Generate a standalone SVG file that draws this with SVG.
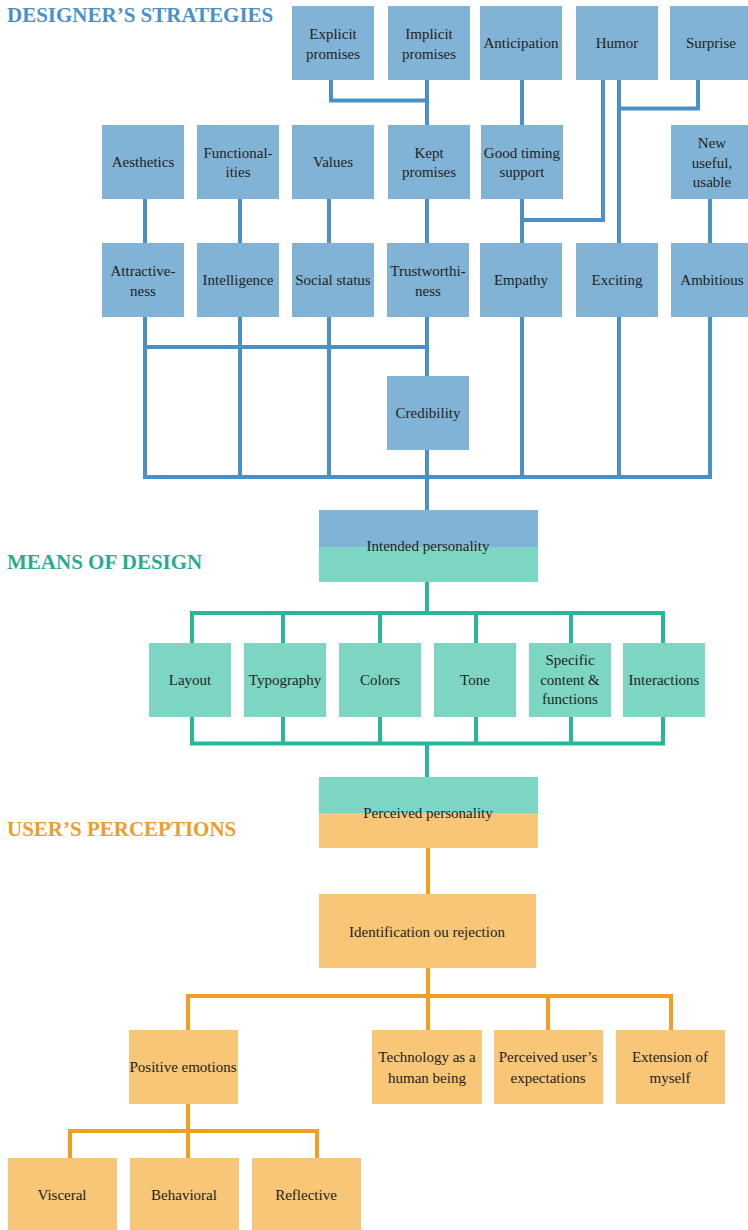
<svg xmlns="http://www.w3.org/2000/svg" width="748" height="1230" viewBox="0 0 748 1230">
<style>
text{font-family:"Liberation Serif","DejaVu Serif",Tinos,Times,serif;fill:#231f20;font-size:15px;text-anchor:middle}
.h{font-weight:bold;font-size:21px;text-anchor:start}
.b{fill:#80b3d6}
.t{fill:#7dd6c3}
.o{fill:#f7c676}
.lb{stroke:#4b91c9;stroke-width:4;fill:none;stroke-linejoin:miter;stroke-linecap:square}
.lt{stroke:#26b899;stroke-width:4;fill:none;stroke-linecap:square}
.lo{stroke:#f29e1f;stroke-width:4;fill:none;stroke-linecap:square}
</style>
<rect width="748" height="1230" fill="#fff"/>
<g id="headings" font-family="Liberation Serif, serif">
<text class="h" x="7" y="22" style="fill:#4a90c9">DESIGNER’S STRATEGIES</text>
<text class="h" x="7" y="569" style="fill:#27ac8f">MEANS OF DESIGN</text>
<text class="h" x="7" y="836" style="fill:#f09c2a">USER’S PERCEPTIONS</text>
</g>
<g id="connectors">
<path class="lb" d="M331 80V100.5H427M427 80V125M522 80V125M603 80V220H522M619 80V243M619 108.5H698V80M427 199V243M522 199V243M145 199V243M240 199V243M329 199V243M710 199V243"/>
<path class="lb" d="M145 317V477H710V317M240 317V477M329 317V477M427 317V376M427 450V510M522 317V477M619 317V477M145 347H427"/>
<path class="lt" d="M427 582V613M192 643V613H663V643M283 613V643M380 613V643M476 613V643M571 613V643M192 717V743.5H663V717M283 717V743.5M380 717V743.5M476 717V743.5M571 717V743.5M427 743.5V777"/>
<path class="lo" d="M428 848V894M428 968V1030M188 1030V996H671V1030M548 996V1030M188 1104V1158M70 1158V1131H317V1158"/>
</g>
<g id="n-explicit"><rect class="b" x="292" y="6" width="82" height="74"/><text x="333" y="39">Explicit</text><text x="333" y="59">promises</text></g>
<g id="n-implicit"><rect class="b" x="388" y="6" width="82" height="74"/><text x="429" y="39">Implicit</text><text x="429" y="59">promises</text></g>
<g id="n-anticipation"><rect class="b" x="480" y="6" width="82" height="74"/><text x="521" y="48">Anticipation</text></g>
<g id="n-humor"><rect class="b" x="576" y="6" width="82" height="74"/><text x="617" y="48">Humor</text></g>
<g id="n-surprise"><rect class="b" x="670" y="6" width="78" height="74"/><text x="711" y="48">Surprise</text></g>
<g id="n-aesthetics"><rect class="b" x="102" y="125" width="82" height="74"/><text x="143" y="167">Aesthetics</text></g>
<g id="n-functionalities"><rect class="b" x="197" y="125" width="82" height="74"/><text x="238" y="158">Functional-</text><text x="238" y="177">ities</text></g>
<g id="n-values"><rect class="b" x="292" y="125" width="82" height="74"/><text x="333" y="167">Values</text></g>
<g id="n-kept"><rect class="b" x="388" y="125" width="82" height="74"/><text x="429" y="158">Kept</text><text x="429" y="177">promises</text></g>
<g id="n-goodtiming"><rect class="b" x="481" y="125" width="82" height="74"/><text x="522" y="158">Good timing</text><text x="522" y="177">support</text></g>
<g id="n-new"><rect class="b" x="671" y="125" width="77" height="74"/><text x="712" y="148">New</text><text x="712" y="167.5">useful,</text><text x="712" y="187">usable</text></g>
<g id="n-attractiveness"><rect class="b" x="102" y="243" width="82" height="74"/><text x="143" y="276">Attractive-</text><text x="143" y="296">ness</text></g>
<g id="n-intelligence"><rect class="b" x="197" y="243" width="82" height="74"/><text x="238" y="285">Intelligence</text></g>
<g id="n-social"><rect class="b" x="292" y="243" width="82" height="74"/><text x="333" y="285">Social status</text></g>
<g id="n-trust"><rect class="b" x="387" y="243" width="82" height="74"/><text x="428" y="276">Trustworthi-</text><text x="428" y="296">ness</text></g>
<g id="n-empathy"><rect class="b" x="480" y="243" width="82" height="74"/><text x="521" y="285">Empathy</text></g>
<g id="n-exciting"><rect class="b" x="576" y="243" width="82" height="74"/><text x="617" y="285">Exciting</text></g>
<g id="n-ambitious"><rect class="b" x="671" y="243" width="77" height="74"/><text x="712" y="285">Ambitious</text></g>
<g id="n-credibility"><rect class="b" x="387" y="376" width="82" height="74"/><text x="428" y="418">Credibility</text></g>
<g id="n-intended"><rect class="b" x="319" y="510" width="219" height="37"/><rect class="t" x="319" y="547" width="219" height="35"/><text x="428" y="551">Intended personality</text></g>
<g id="n-layout"><rect class="t" x="149" y="643" width="82" height="74"/><text x="190" y="685">Layout</text></g>
<g id="n-typography"><rect class="t" x="244" y="643" width="82" height="74"/><text x="285" y="685">Typography</text></g>
<g id="n-colors"><rect class="t" x="339" y="643" width="82" height="74"/><text x="380" y="685">Colors</text></g>
<g id="n-tone"><rect class="t" x="434" y="643" width="82" height="74"/><text x="475" y="685">Tone</text></g>
<g id="n-specific"><rect class="t" x="529" y="643" width="82" height="74"/><text x="570" y="665">Specific</text><text x="570" y="684.5">content &amp;</text><text x="570" y="704">functions</text></g>
<g id="n-interactions"><rect class="t" x="623" y="643" width="82" height="74"/><text x="664" y="685">Interactions</text></g>
<g id="n-perceived"><rect class="t" x="319" y="777" width="219" height="36"/><rect class="o" x="319" y="813" width="219" height="35"/><text x="428" y="818">Perceived personality</text></g>
<g id="n-identification"><rect class="o" x="319" y="894" width="217" height="74"/><text x="427" y="937">Identification ou rejection</text></g>
<g id="n-positive"><rect class="o" x="129" y="1030" width="109" height="74"/><text x="183" y="1072">Positive emotions</text></g>
<g id="n-technology"><rect class="o" x="372" y="1030" width="110" height="74"/><text x="427" y="1062">Technology as a</text><text x="427" y="1083">human being</text></g>
<g id="n-expectations"><rect class="o" x="494" y="1030" width="109" height="74"/><text x="548" y="1062">Perceived user’s</text><text x="548" y="1083">expectations</text></g>
<g id="n-extension"><rect class="o" x="616" y="1030" width="109" height="74"/><text x="670" y="1062">Extension of</text><text x="670" y="1083">myself</text></g>
<g id="n-visceral"><rect class="o" x="8" y="1158" width="109" height="72"/><text x="62" y="1200">Visceral</text></g>
<g id="n-behavioral"><rect class="o" x="130" y="1158" width="109" height="72"/><text x="184" y="1200">Behavioral</text></g>
<g id="n-reflective"><rect class="o" x="252" y="1158" width="109" height="72"/><text x="306" y="1200">Reflective</text></g>
</svg>
